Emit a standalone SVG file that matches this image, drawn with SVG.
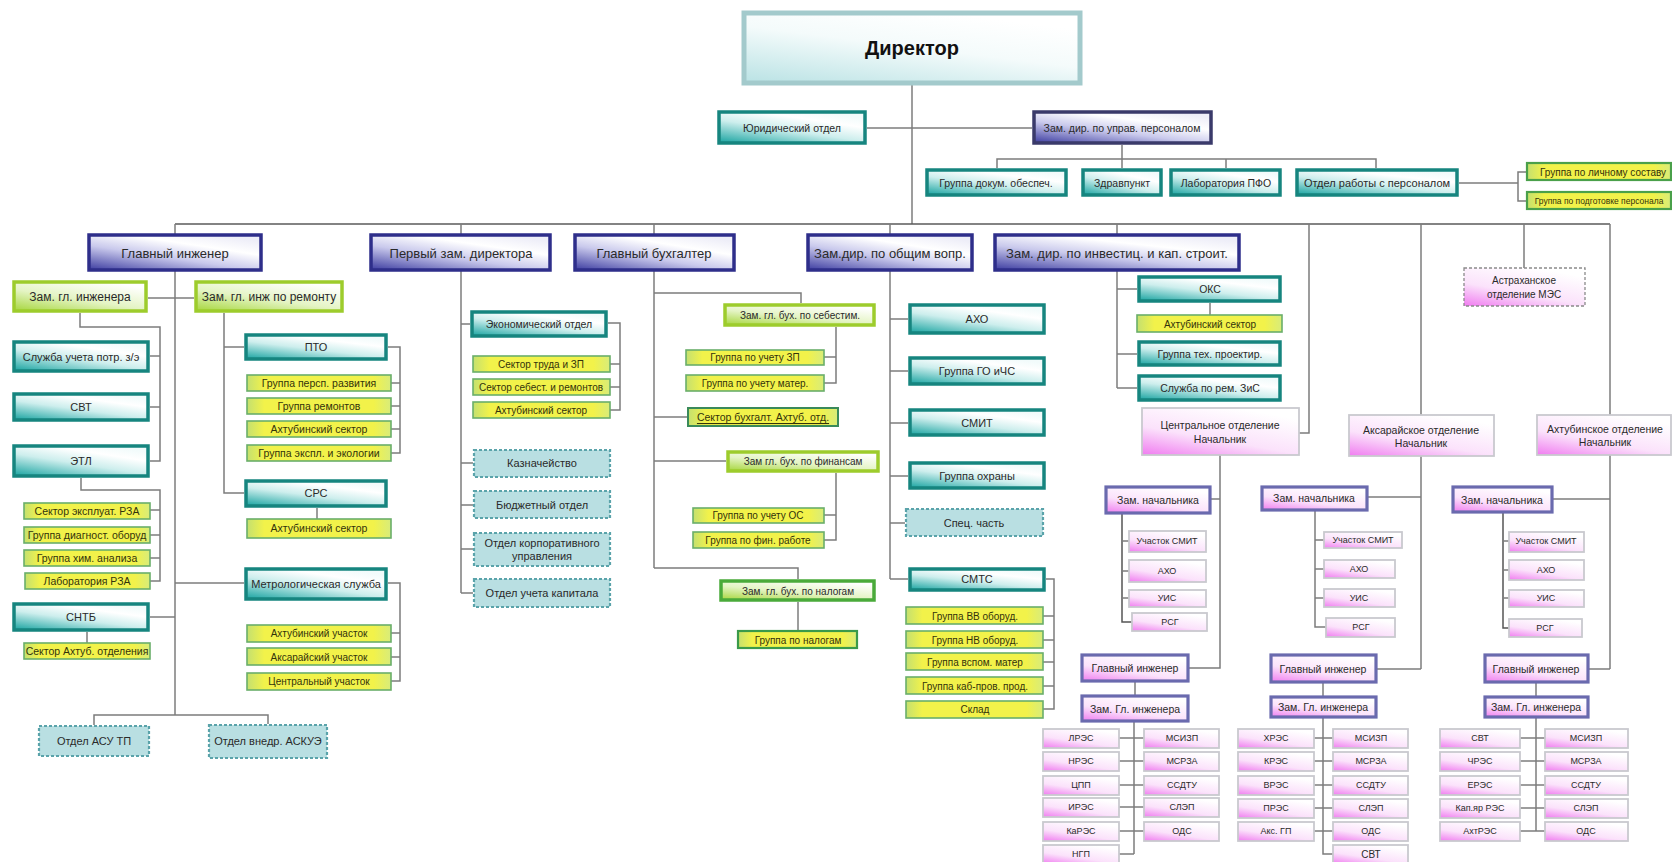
<svg xmlns="http://www.w3.org/2000/svg" width="1672" height="862" viewBox="0 0 1672 862">
<defs>
<linearGradient id="gBlue" x1="0" y1="1" x2="0.75" y2="0"><stop offset="0" stop-color="#3c3ca0"/><stop offset="0.45" stop-color="#c9c9ec"/><stop offset="0.75" stop-color="#ffffff"/><stop offset="1" stop-color="#eeeef8"/></linearGradient>
<linearGradient id="gTeal" x1="0" y1="1" x2="0.7" y2="0"><stop offset="0" stop-color="#17a3a0"/><stop offset="0.5" stop-color="#cdeeed"/><stop offset="0.8" stop-color="#ffffff"/><stop offset="1" stop-color="#f2fbfb"/></linearGradient>
<linearGradient id="gGreen" x1="0" y1="1" x2="0.7" y2="0"><stop offset="0" stop-color="#a6d63c"/><stop offset="0.5" stop-color="#e4f4c4"/><stop offset="1" stop-color="#ffffff"/></linearGradient>
<linearGradient id="gYellow" x1="0" y1="0" x2="1" y2="0"><stop offset="0" stop-color="#c4e070"/><stop offset="0.12" stop-color="#f2f24a"/><stop offset="0.88" stop-color="#f2f24a"/><stop offset="1" stop-color="#d8ec7a"/></linearGradient>
<linearGradient id="gPink" x1="0" y1="1" x2="0.6" y2="0"><stop offset="0" stop-color="#f07cf0"/><stop offset="0.45" stop-color="#fbe2fb"/><stop offset="1" stop-color="#ffffff"/></linearGradient>
<linearGradient id="gDir" x1="0" y1="1" x2="0.6" y2="0"><stop offset="0" stop-color="#b9e2e4"/><stop offset="0.6" stop-color="#f4fbfb"/><stop offset="1" stop-color="#ffffff"/></linearGradient>
<style>
.c line, .c polyline{stroke:#7c7c7c;stroke-width:1.5;fill:none}
.fb{fill:url(#gBlue);stroke:#2e2e8a;stroke-width:3.5}
.ft{fill:url(#gTeal);stroke:#16857f;stroke-width:3.5}
.fg{fill:url(#gGreen);stroke:#9dcc2c;stroke-width:3.5}
.fy{fill:url(#gYellow);stroke:#6aae6a;stroke-width:1.6}
.fd{fill:#b9dfe2;stroke:#5aa3aa;stroke-width:2.2;stroke-dasharray:3 2}
.fp{fill:url(#gPink);stroke:#c9c9cf;stroke-width:1.8}
.fpp{fill:url(#gPink);stroke:#6a6aae;stroke-width:3.2}
.fdir{fill:url(#gDir);stroke:#a3cacc;stroke-width:5}
.fas{fill:url(#gPink);stroke:#8a8a8a;stroke-width:1.3;stroke-dasharray:3 2}
text{font-family:"Liberation Sans",Arial,sans-serif;fill:#2a2a2a;text-anchor:middle;dominant-baseline:central}
.s13{font-size:13px}.s12{font-size:12px}.s11{font-size:11px}.s105{font-size:10.5px}.s10{font-size:10px}.s9{font-size:9px}
.ty{fill:#33330a}
.dir{font-size:20px;font-weight:bold;fill:#111}
</style>
</defs>
<rect width="1672" height="862" fill="#ffffff"/>

<g id="connectors" class="c">
<line x1="912" y1="85" x2="912" y2="224"/>
<line x1="867" y1="128" x2="1032" y2="128"/>
<line x1="1122" y1="145" x2="1122" y2="168"/>
<polyline points="997,168 997,159 1376,159 1376,168"/>
<line x1="1226" y1="159" x2="1226" y2="168"/>
<polyline points="1459,183 1518,183"/>
<polyline points="1527,172 1518,172 1518,201 1527,201"/>
<line x1="175" y1="224" x2="1610" y2="224" style="stroke:#5a5a5a"/>
<line x1="175" y1="224" x2="175" y2="715"/>
<line x1="461" y1="224" x2="461" y2="593"/>
<line x1="654" y1="224" x2="654" y2="568"/>
<line x1="890" y1="224" x2="890" y2="579"/>
<line x1="1117" y1="224" x2="1117" y2="388"/>
<polyline points="1309,224 1309,433 1299,433"/>
<line x1="1421" y1="224" x2="1421" y2="669"/>
<line x1="1524" y1="224" x2="1524" y2="268"/>
<line x1="1610" y1="224" x2="1610" y2="669"/>
<line x1="148" y1="298" x2="194" y2="298"/>
<polyline points="80,313 80,327 160,327 160,461 150,461"/>
<line x1="150" y1="356" x2="160" y2="356"/>
<line x1="150" y1="407" x2="160" y2="407"/>
<polyline points="81,478 81,490 160,490 160,581 150,581"/>
<line x1="150" y1="510" x2="160" y2="510"/>
<line x1="150" y1="535" x2="160" y2="535"/>
<line x1="150" y1="558" x2="160" y2="558"/>
<line x1="150" y1="617" x2="175" y2="617"/>
<line x1="87" y1="632" x2="87" y2="643"/>
<polyline points="94,725 94,715 268,715 268,724"/>
<polyline points="224,313 224,493 244,493"/>
<line x1="224" y1="347" x2="244" y2="347"/>
<polyline points="388,347 400,347 400,453 391,453"/>
<line x1="391" y1="383" x2="400" y2="383"/>
<line x1="391" y1="406" x2="400" y2="406"/>
<line x1="391" y1="429" x2="400" y2="429"/>
<line x1="317" y1="508" x2="317" y2="519"/>
<line x1="175" y1="583" x2="244" y2="583"/>
<polyline points="388,583 400,583 400,681 391,681"/>
<line x1="391" y1="633" x2="400" y2="633"/>
<line x1="391" y1="657" x2="400" y2="657"/>
<line x1="461" y1="324" x2="470" y2="324"/>
<polyline points="608,323 620,323 620,410 610,410"/>
<line x1="610" y1="364" x2="620" y2="364"/>
<line x1="610" y1="387" x2="620" y2="387"/>
<line x1="461" y1="463" x2="473" y2="463"/>
<line x1="461" y1="505" x2="473" y2="505"/>
<line x1="461" y1="549" x2="473" y2="549"/>
<line x1="461" y1="593" x2="473" y2="593"/>
<polyline points="654,293 801,293 801,303"/>
<polyline points="836,327 836,383 824,383"/>
<line x1="824" y1="357" x2="836" y2="357"/>
<line x1="654" y1="417" x2="688" y2="417"/>
<line x1="654" y1="461" x2="726" y2="461"/>
<polyline points="836,473 836,540 824,540"/>
<line x1="824" y1="515" x2="836" y2="515"/>
<polyline points="654,568 798,568 798,579"/>
<line x1="798" y1="602" x2="798" y2="631"/>
<line x1="890" y1="319" x2="908" y2="319"/>
<line x1="890" y1="371" x2="908" y2="371"/>
<line x1="890" y1="423" x2="908" y2="423"/>
<line x1="890" y1="476" x2="908" y2="476"/>
<line x1="890" y1="523" x2="905" y2="523"/>
<line x1="890" y1="579" x2="908" y2="579"/>
<polyline points="1046,579 1054,579 1054,709 1043,709"/>
<line x1="1043" y1="616" x2="1054" y2="616"/>
<line x1="1043" y1="640" x2="1054" y2="640"/>
<line x1="1043" y1="662" x2="1054" y2="662"/>
<line x1="1043" y1="686" x2="1054" y2="686"/>
<line x1="1117" y1="289" x2="1137" y2="289"/>
<line x1="1117" y1="354" x2="1137" y2="354"/>
<line x1="1117" y1="388" x2="1137" y2="388"/>
<line x1="1210" y1="303" x2="1210" y2="315"/>
<polyline points="1220,455 1220,668 1189,668"/>
<line x1="1211" y1="499" x2="1220" y2="499"/>
<polyline points="1122,514 1122,622 1132,622" style="stroke:#555"/>
<line x1="1122" y1="541" x2="1129" y2="541"/>
<line x1="1122" y1="571" x2="1129" y2="571"/>
<line x1="1122" y1="598" x2="1129" y2="598"/>
<line x1="1135" y1="682" x2="1135" y2="695"/>
<line x1="1134" y1="722" x2="1134" y2="854"/>
<line x1="1119" y1="738" x2="1144" y2="738"/>
<line x1="1119" y1="761" x2="1144" y2="761"/>
<line x1="1119" y1="785" x2="1144" y2="785"/>
<line x1="1119" y1="807" x2="1144" y2="807"/>
<line x1="1119" y1="831" x2="1144" y2="831"/>
<line x1="1119" y1="854" x2="1134" y2="854"/>
<line x1="1368" y1="497" x2="1421" y2="497"/>
<polyline points="1315,511 1315,627 1326,627"/>
<line x1="1315" y1="540" x2="1324" y2="540"/>
<line x1="1315" y1="569" x2="1324" y2="569"/>
<line x1="1315" y1="598" x2="1324" y2="598"/>
<line x1="1377" y1="669" x2="1421" y2="669"/>
<line x1="1323" y1="683" x2="1323" y2="696"/>
<polyline points="1323,718 1323,854 1333,854"/>
<line x1="1314" y1="738" x2="1333" y2="738"/>
<line x1="1314" y1="761" x2="1333" y2="761"/>
<line x1="1314" y1="785" x2="1333" y2="785"/>
<line x1="1314" y1="808" x2="1333" y2="808"/>
<line x1="1314" y1="831" x2="1333" y2="831"/>
<line x1="1553" y1="499" x2="1610" y2="499"/>
<polyline points="1503,513 1503,628 1509,628" style="stroke:#555"/>
<line x1="1503" y1="541" x2="1509" y2="541"/>
<line x1="1503" y1="570" x2="1509" y2="570"/>
<line x1="1503" y1="598" x2="1509" y2="598"/>
<line x1="1589" y1="669" x2="1610" y2="669"/>
<line x1="1536" y1="683" x2="1536" y2="696"/>
<line x1="1536" y1="718" x2="1536" y2="831"/>
<line x1="1520" y1="738" x2="1545" y2="738"/>
<line x1="1520" y1="761" x2="1545" y2="761"/>
<line x1="1520" y1="785" x2="1545" y2="785"/>
<line x1="1520" y1="808" x2="1545" y2="808"/>
<line x1="1520" y1="831" x2="1545" y2="831"/>
</g>

<g id="n-director"><rect class="fdir" x="744" y="13" width="336" height="70"/><text class="dir" x="912" y="48">Директор</text></g>
<g id="n-yur"><rect class="ft" x="719" y="112" width="146" height="31"/><text class="s105" x="792" y="128">Юридический отдел</text></g>
<g id="n-zamperson"><rect class="fb" x="1034" y="112" width="177" height="31" style="stroke:#3a3a6a"/><text class="s105" x="1122" y="128">Зам. дир. по управ. персоналом</text></g>
<g id="n-dokum"><rect class="ft" x="927" y="170" width="139" height="25"/><text class="s105" x="996" y="183">Группа докум. обеспеч.</text></g>
<g id="n-zdrav"><rect class="ft" x="1083" y="170" width="78" height="25"/><text class="s105" x="1122" y="183">Здравпункт</text></g>
<g id="n-pfo"><rect class="ft" x="1171" y="170" width="109" height="25"/><text class="s105" x="1226" y="183">Лаборатория ПФО</text></g>
<g id="n-otdpers"><rect class="ft" x="1297" y="170" width="160" height="25"/><text class="s11" x="1377" y="183">Отдел работы с персоналом</text></g>
<g id="n-lichn"><rect class="fy" x="1527" y="163" width="144" height="17" style="stroke:#4aa04a;stroke-width:2.2"/><text class="s10 ty" x="1540" y="172" style="text-anchor:start" textLength="126" lengthAdjust="spacingAndGlyphs">Группа по личному составу</text></g>
<g id="n-podg"><rect class="fy" x="1527" y="192" width="144" height="17" style="stroke:#4aa04a;stroke-width:2.2"/><text class="ty" x="1599" y="201" style="font-size:8.5px">Группа по подготовке персонала</text></g>

<g id="n-glinzh"><rect class="fb" x="89" y="235" width="172" height="35"/><text class="s13" x="175" y="253">Главный инженер</text></g>
<g id="n-perv"><rect class="fb" x="371" y="235" width="179" height="35"/><text class="s13" x="461" y="253">Первый зам. директора</text></g>
<g id="n-glbuh"><rect class="fb" x="575" y="235" width="159" height="35"/><text class="s13" x="654" y="253">Главный бухгалтер</text></g>
<g id="n-obsh"><rect class="fb" x="808" y="235" width="164" height="35"/><text class="s13" x="890" y="253">Зам.дир. по общим вопр.</text></g>
<g id="n-invest"><rect class="fb" x="995" y="235" width="244" height="35"/><text class="s13" x="1117" y="253">Зам. дир. по инвестиц. и кап. строит.</text></g>

<g id="n-zamgi"><rect class="fg" x="14" y="282" width="132" height="29"/><text class="s12" x="80" y="297">Зам. гл. инженера</text></g>
<g id="n-zamrem"><rect class="fg" x="196" y="282" width="146" height="29"/><text class="s12" x="269" y="297">Зам. гл. инж по ремонту</text></g>
<g id="n-sluzhuch"><rect class="ft" x="14" y="342" width="134" height="29"/><text class="s11" x="81" y="357">Служба учета потр. з/э</text></g>
<g id="n-svt"><rect class="ft" x="14" y="394" width="134" height="26"/><text class="s11" x="81" y="407">СВТ</text></g>
<g id="n-etl"><rect class="ft" x="14" y="446" width="134" height="30"/><text class="s11" x="81" y="461">ЭТЛ</text></g>
<g id="n-sekrza"><rect class="fy" x="24" y="503" width="126" height="16"/><text class="s105 ty" x="87" y="511">Сектор эксплуат. РЗА</text></g>
<g id="n-diag"><rect class="fy" x="24" y="527" width="126" height="16"/><text class="s105 ty" x="87" y="535">Группа диагност. оборуд</text></g>
<g id="n-him"><rect class="fy" x="24" y="550" width="126" height="16"/><text class="s105 ty" x="87" y="558">Группа хим. анализа</text></g>
<g id="n-labrza"><rect class="fy" x="25" y="573" width="125" height="16"/><text class="s105 ty" x="87" y="581">Лаборатория РЗА</text></g>
<g id="n-sntb"><rect class="ft" x="14" y="604" width="134" height="26"/><text class="s11" x="81" y="617">СНТБ</text></g>
<g id="n-sekaht"><rect class="fy" x="24" y="643" width="126" height="16"/><text class="s105 ty" x="87" y="651">Сектор Ахтуб. отделения</text></g>
<g id="n-asutp"><rect class="fd" x="39" y="726" width="110" height="30"/><text class="s11" x="94" y="741">Отдел АСУ ТП</text></g>
<g id="n-askue"><rect class="fd" x="209" y="725" width="118" height="33"/><text class="s11" x="268" y="741">Отдел внедр. АСКУЭ</text></g>
<g id="n-pto"><rect class="ft" x="246" y="335" width="140" height="24"/><text class="s11" x="316" y="347">ПТО</text></g>
<g id="n-persp"><rect class="fy" x="247" y="375" width="144" height="16"/><text class="s105 ty" x="319" y="383">Группа персп. развития</text></g>
<g id="n-remont"><rect class="fy" x="247" y="398" width="144" height="16"/><text class="s105 ty" x="319" y="406">Группа ремонтов</text></g>
<g id="n-ahtsek1"><rect class="fy" x="247" y="421" width="144" height="16"/><text class="s105 ty" x="319" y="429">Ахтубинский сектор</text></g>
<g id="n-ekspl"><rect class="fy" x="247" y="445" width="144" height="16"/><text class="s105 ty" x="319" y="453">Группа экспл. и экологии</text></g>
<g id="n-srs"><rect class="ft" x="246" y="481" width="140" height="25"/><text class="s11" x="316" y="493">СРС</text></g>
<g id="n-ahtsek2"><rect class="fy" x="247" y="519" width="144" height="19"/><text class="s105 ty" x="319" y="528">Ахтубинский сектор</text></g>
<g id="n-metr"><rect class="ft" x="246" y="569" width="140" height="30"/><text class="s11" x="316" y="584">Метрологическая служба</text></g>
<g id="n-ahtuch"><rect class="fy" x="247" y="625" width="144" height="17"/><text class="s10 ty" x="319" y="633">Ахтубинский участок</text></g>
<g id="n-aksuch"><rect class="fy" x="247" y="648" width="144" height="17"/><text class="s10 ty" x="319" y="657">Аксарайский участок</text></g>
<g id="n-centruch"><rect class="fy" x="247" y="673" width="144" height="17"/><text class="s10 ty" x="319" y="681">Центральный участок</text></g>

<g id="n-ekon"><rect class="ft" x="472" y="312" width="134" height="24"/><text class="s105" x="539" y="324">Экономический отдел</text></g>
<g id="n-trud"><rect class="fy" x="473" y="356" width="137" height="16"/><text class="s10 ty" x="541" y="364">Сектор труда и ЗП</text></g>
<g id="n-sebest"><rect class="fy" x="473" y="379" width="137" height="16"/><text class="s10 ty" x="541" y="387">Сектор себест. и ремонтов</text></g>
<g id="n-ahtsek3"><rect class="fy" x="473" y="402" width="137" height="16"/><text class="s10 ty" x="541" y="410">Ахтубинский сектор</text></g>
<g id="n-kazn"><rect class="fd" x="474" y="450" width="136" height="27"/><text class="s11" x="542" y="463">Казначейство</text></g>
<g id="n-budg"><rect class="fd" x="474" y="491" width="136" height="27"/><text class="s11" x="542" y="505">Бюджетный отдел</text></g>
<g id="n-korp"><rect class="fd" x="474" y="533" width="136" height="33"/><text class="s11" x="542" y="543">Отдел корпоративного</text><text class="s11" x="542" y="556">управления</text></g>
<g id="n-kapit"><rect class="fd" x="474" y="579" width="136" height="28"/><text class="s11" x="542" y="593">Отдел учета капитала</text></g>

<g id="n-bsebest"><rect class="fg" x="725" y="305" width="149" height="20"/><text class="s10" x="800" y="315">Зам. гл. бух. по себестим.</text></g>
<g id="n-uchzp"><rect class="fy" x="686" y="350" width="138" height="15"/><text class="s10 ty" x="755" y="357">Группа по учету ЗП</text></g>
<g id="n-uchmat"><rect class="fy" x="686" y="375" width="138" height="16"/><text class="s10 ty" x="755" y="383">Группа по учету матер.</text></g>
<g id="n-buhaht"><rect class="fy" x="688" y="408" width="150" height="18" style="stroke:#3a8a5a;stroke-width:2"/><text class="s105 ty" x="763" y="417" style="text-decoration:underline">Сектор бухгалт. Ахтуб. отд.</text></g>
<g id="n-bfin"><rect class="fg" x="728" y="452" width="150" height="19"/><text class="s10" x="803" y="461">Зам гл. бух. по финансам</text></g>
<g id="n-uchos"><rect class="fy" x="693" y="508" width="131" height="15"/><text class="s10 ty" x="758" y="515">Группа по учету ОС</text></g>
<g id="n-finr"><rect class="fy" x="693" y="532" width="131" height="16"/><text class="s10 ty" x="758" y="540">Группа по фин. работе</text></g>
<g id="n-bnal"><rect class="fg" x="721" y="581" width="153" height="19" style="stroke:#4aaa3a"/><text class="s10" x="798" y="591">Зам. гл. бух. по налогам</text></g>
<g id="n-nal"><rect class="fy" x="738" y="631" width="119" height="17" style="stroke:#3a9a4a;stroke-width:2.2"/><text class="s10 ty" x="798" y="640">Группа по налогам</text></g>

<g id="n-aho"><rect class="ft" x="910" y="305" width="134" height="28"/><text class="s11" x="977" y="319">АХО</text></g>
<g id="n-gochs"><rect class="ft" x="910" y="358" width="134" height="26"/><text class="s11" x="977" y="371">Группа ГО иЧС</text></g>
<g id="n-smit"><rect class="ft" x="910" y="410" width="134" height="25"/><text class="s11" x="977" y="423">СМИТ</text></g>
<g id="n-ohr"><rect class="ft" x="910" y="463" width="134" height="25"/><text class="s11" x="977" y="476">Группа охраны</text></g>
<g id="n-spec"><rect class="fd" x="906" y="509" width="137" height="27"/><text class="s11" x="974" y="523">Спец. часть</text></g>
<g id="n-smts"><rect class="ft" x="910" y="569" width="134" height="21"/><text class="s11" x="977" y="579">СМТС</text></g>
<g id="n-vv"><rect class="fy" x="906" y="607" width="137" height="17"/><text class="s10 ty" x="975" y="616">Группа ВВ оборуд.</text></g>
<g id="n-nv"><rect class="fy" x="906" y="631" width="137" height="17"/><text class="s10 ty" x="975" y="640">Группа НВ оборуд.</text></g>
<g id="n-vspom"><rect class="fy" x="906" y="653" width="137" height="17"/><text class="s10 ty" x="975" y="662">Группа вспом. матер</text></g>
<g id="n-kab"><rect class="fy" x="906" y="677" width="137" height="17"/><text class="s10 ty" x="975" y="686">Группа каб-пров. прод.</text></g>
<g id="n-sklad"><rect class="fy" x="906" y="701" width="137" height="17"/><text class="s10 ty" x="975" y="709">Склад</text></g>

<g id="n-oks"><rect class="ft" x="1139" y="277" width="141" height="24"/><text class="s105" x="1210" y="289">ОКС</text></g>
<g id="n-ahtsek4"><rect class="fy" x="1137" y="315" width="145" height="17"/><text class="s10 ty" x="1210" y="324">Ахтубинский сектор</text></g>
<g id="n-tehpr"><rect class="ft" x="1139" y="342" width="141" height="23"/><text class="s105" x="1210" y="354">Группа тех. проектир.</text></g>
<g id="n-zis"><rect class="ft" x="1139" y="376" width="141" height="24"/><text class="s105" x="1210" y="388">Служба по рем. ЗиС</text></g>

<g id="n-astr"><rect class="fas" x="1464" y="268" width="121" height="38"/><text class="s10" x="1524" y="280">Астраханское</text><text class="s10" x="1524" y="294">отделение МЭС</text></g>

<g id="n-c-nach"><rect class="fp" x="1142" y="408" width="157" height="47"/><text class="s105" x="1220" y="425">Центральное отделение</text><text class="s105" x="1220" y="439">Начальник</text></g>
<g id="n-c-zam"><rect class="fpp" x="1106" y="487" width="104" height="26"/><text class="s105" x="1158" y="500">Зам. начальника</text></g>
<g id="n-c-smit"><rect class="fp" x="1129" y="531" width="77" height="21"/><text class="s9" x="1167" y="541">Участок СМИТ</text></g>
<g id="n-c-aho"><rect class="fp" x="1129" y="560" width="77" height="22"/><text class="s9" x="1167" y="571">АХО</text></g>
<g id="n-c-uis"><rect class="fp" x="1129" y="590" width="77" height="17"/><text class="s9" x="1167" y="598">УИС</text></g>
<g id="n-c-rsg"><rect class="fp" x="1132" y="613" width="75" height="18"/><text class="s9" x="1170" y="622">РСГ</text></g>
<g id="n-c-gi"><rect class="fpp" x="1082" y="655" width="106" height="26"/><text class="s105" x="1135" y="668">Главный инженер</text></g>
<g id="n-c-zgi"><rect class="fpp" x="1082" y="696" width="106" height="25"/><text class="s105" x="1135" y="709">Зам. Гл. инженера</text></g>
<g id="n-c-l1"><rect class="fp" x="1043" y="729" width="76" height="19"/><text class="s9" x="1081" y="738">ЛРЭС</text></g>
<g id="n-c-l2"><rect class="fp" x="1043" y="752" width="76" height="19"/><text class="s9" x="1081" y="761">НРЭС</text></g>
<g id="n-c-l3"><rect class="fp" x="1043" y="776" width="76" height="19"/><text class="s9" x="1081" y="785">ЦПП</text></g>
<g id="n-c-l4"><rect class="fp" x="1043" y="798" width="76" height="19"/><text class="s9" x="1081" y="807">ИРЭС</text></g>
<g id="n-c-l5"><rect class="fp" x="1043" y="822" width="76" height="19"/><text class="s9" x="1081" y="831">КаРЭС</text></g>
<g id="n-c-l6"><rect class="fp" x="1043" y="845" width="76" height="19"/><text class="s9" x="1081" y="854">НГП</text></g>
<g id="n-c-r1"><rect class="fp" x="1144" y="729" width="75" height="19"/><text class="s9" x="1182" y="738">МСИЗП</text></g>
<g id="n-c-r2"><rect class="fp" x="1144" y="752" width="75" height="19"/><text class="s9" x="1182" y="761">МСРЗА</text></g>
<g id="n-c-r3"><rect class="fp" x="1144" y="776" width="75" height="19"/><text class="s9" x="1182" y="785">ССДТУ</text></g>
<g id="n-c-r4"><rect class="fp" x="1144" y="798" width="75" height="19"/><text class="s9" x="1182" y="807">СЛЭП</text></g>
<g id="n-c-r5"><rect class="fp" x="1144" y="822" width="75" height="19"/><text class="s9" x="1182" y="831">ОДС</text></g>

<g id="n-a-nach"><rect class="fp" x="1349" y="415" width="145" height="41"/><text class="s105" x="1421" y="430">Аксарайское отделение</text><text class="s105" x="1421" y="443">Начальник</text></g>
<g id="n-a-zam"><rect class="fpp" x="1262" y="487" width="105" height="23"/><text class="s105" x="1314" y="498">Зам. начальника</text></g>
<g id="n-a-smit"><rect class="fp" x="1324" y="532" width="78" height="16"/><text class="s9" x="1363" y="540">Участок СМИТ</text></g>
<g id="n-a-aho"><rect class="fp" x="1324" y="560" width="71" height="18"/><text class="s9" x="1359" y="569">АХО</text></g>
<g id="n-a-uis"><rect class="fp" x="1324" y="589" width="71" height="18"/><text class="s9" x="1359" y="598">УИС</text></g>
<g id="n-a-rsg"><rect class="fp" x="1326" y="618" width="69" height="19"/><text class="s9" x="1361" y="627">РСГ</text></g>
<g id="n-a-gi"><rect class="fpp" x="1271" y="655" width="105" height="27"/><text class="s105" x="1323" y="669">Главный инженер</text></g>
<g id="n-a-zgi"><rect class="fpp" x="1271" y="697" width="105" height="20"/><text class="s105" x="1323" y="707">Зам. Гл. инженера</text></g>
<g id="n-a-l1"><rect class="fp" x="1238" y="729" width="76" height="19"/><text class="s9" x="1276" y="738">ХРЭС</text></g>
<g id="n-a-l2"><rect class="fp" x="1238" y="752" width="76" height="19"/><text class="s9" x="1276" y="761">КРЭС</text></g>
<g id="n-a-l3"><rect class="fp" x="1238" y="776" width="76" height="19"/><text class="s9" x="1276" y="785">ВРЭС</text></g>
<g id="n-a-l4"><rect class="fp" x="1238" y="799" width="76" height="19"/><text class="s9" x="1276" y="808">ПРЭС</text></g>
<g id="n-a-l5"><rect class="fp" x="1238" y="822" width="76" height="19"/><text class="s9" x="1276" y="831">Акс. ГП</text></g>
<g id="n-a-r1"><rect class="fp" x="1333" y="729" width="75" height="19"/><text class="s9" x="1371" y="738">МСИЗП</text></g>
<g id="n-a-r2"><rect class="fp" x="1333" y="752" width="75" height="19"/><text class="s9" x="1371" y="761">МСРЗА</text></g>
<g id="n-a-r3"><rect class="fp" x="1333" y="776" width="75" height="19"/><text class="s9" x="1371" y="785">ССДТУ</text></g>
<g id="n-a-r4"><rect class="fp" x="1333" y="799" width="75" height="19"/><text class="s9" x="1371" y="808">СЛЭП</text></g>
<g id="n-a-r5"><rect class="fp" x="1333" y="822" width="75" height="19"/><text class="s9" x="1371" y="831">ОДС</text></g>
<g id="n-a-r6"><rect class="fp" x="1333" y="845" width="75" height="19"/><text class="s10" x="1371" y="854">СВТ</text></g>

<g id="n-h-nach"><rect class="fp" x="1537" y="415" width="134" height="40"/><text class="s105" x="1605" y="429">Ахтубинское отделение</text><text class="s105" x="1605" y="442">Начальник</text></g>
<g id="n-h-zam"><rect class="fpp" x="1453" y="487" width="99" height="25"/><text class="s105" x="1502" y="500">Зам. начальника</text></g>
<g id="n-h-smit"><rect class="fp" x="1509" y="532" width="75" height="20"/><text class="s9" x="1546" y="541">Участок СМИТ</text></g>
<g id="n-h-aho"><rect class="fp" x="1509" y="560" width="75" height="20"/><text class="s9" x="1546" y="570">АХО</text></g>
<g id="n-h-uis"><rect class="fp" x="1509" y="590" width="75" height="17"/><text class="s9" x="1546" y="598">УИС</text></g>
<g id="n-h-rsg"><rect class="fp" x="1509" y="619" width="73" height="18"/><text class="s9" x="1545" y="628">РСГ</text></g>
<g id="n-h-gi"><rect class="fpp" x="1485" y="655" width="103" height="27"/><text class="s105" x="1536" y="669">Главный инженер</text></g>
<g id="n-h-zgi"><rect class="fpp" x="1485" y="697" width="103" height="20"/><text class="s105" x="1536" y="707">Зам. Гл. инженера</text></g>
<g id="n-h-l1"><rect class="fp" x="1440" y="729" width="80" height="19"/><text class="s9" x="1480" y="738">СВТ</text></g>
<g id="n-h-l2"><rect class="fp" x="1440" y="752" width="80" height="19"/><text class="s9" x="1480" y="761">ЧРЭС</text></g>
<g id="n-h-l3"><rect class="fp" x="1440" y="776" width="80" height="19"/><text class="s9" x="1480" y="785">ЕРЭС</text></g>
<g id="n-h-l4"><rect class="fp" x="1440" y="799" width="80" height="19"/><text class="s9" x="1480" y="808">Кап.яр РЭС</text></g>
<g id="n-h-l5"><rect class="fp" x="1440" y="822" width="80" height="19"/><text class="s9" x="1480" y="831">АхтРЭС</text></g>
<g id="n-h-r1"><rect class="fp" x="1545" y="729" width="83" height="19"/><text class="s9" x="1586" y="738">МСИЗП</text></g>
<g id="n-h-r2"><rect class="fp" x="1545" y="752" width="83" height="19"/><text class="s9" x="1586" y="761">МСРЗА</text></g>
<g id="n-h-r3"><rect class="fp" x="1545" y="776" width="83" height="19"/><text class="s9" x="1586" y="785">ССДТУ</text></g>
<g id="n-h-r4"><rect class="fp" x="1545" y="799" width="83" height="19"/><text class="s9" x="1586" y="808">СЛЭП</text></g>
<g id="n-h-r5"><rect class="fp" x="1545" y="822" width="83" height="19"/><text class="s9" x="1586" y="831">ОДС</text></g>
</svg>
